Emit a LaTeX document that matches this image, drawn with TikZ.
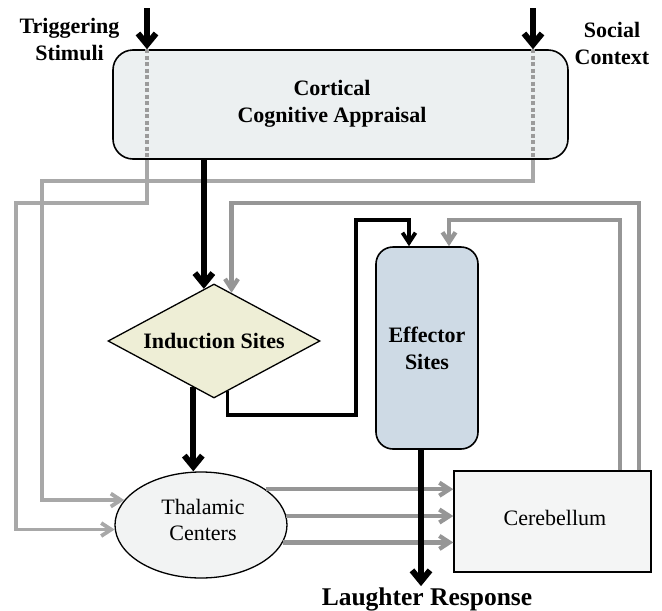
\documentclass[tikz,border=0pt]{standalone}
\usepackage{fontspec}
\setmainfont{Liberation Serif}
\usetikzlibrary{arrows.meta,shapes.geometric}
\definecolor{cortfill}{RGB}{236,240,241}
\definecolor{indfill}{RGB}{238,238,214}
\definecolor{efffill}{RGB}{206,218,229}
\definecolor{thalfill}{RGB}{242,243,243}
\definecolor{cerfill}{RGB}{244,245,245}
\definecolor{arrgray}{RGB}{150,150,150}
\definecolor{linegray}{RGB}{168,168,168}
\definecolor{dotgray}{RGB}{155,155,155}
\begin{document}
\begin{tikzpicture}[x=1pt,y=-1pt,
  lbl/.style={font=\fontsize{22}{27}\selectfont\bfseries, align=center, inner sep=0pt},
  reg/.style={font=\fontsize{22}{26}\selectfont, align=center, inner sep=0pt},
  bigarrow/.style={line width=6pt, -{Straight Barb[length=11pt,width=18pt]}},
  thinblack/.style={line width=3.8pt, -{Straight Barb[length=10pt,width=13pt]}},
  grayarrow/.style={draw=arrgray, line width=4.3pt, -{Straight Barb[length=10pt,width=13pt]}},
  lgarrow/.style={draw=linegray, line width=3.8pt, -{Straight Barb[length=10pt,width=13pt]}},
  dotline/.style={draw=dotgray, line width=3.6pt, dash pattern=on 4pt off 2.5pt},
  boxbase/.style={draw=black, inner sep=0pt}
]
\useasboundingbox (0,0) rectangle (662,611);

% nodes
\node[boxbase, line width=1.6pt, fill=cortfill, rounded corners=20pt,
      minimum width=455pt, minimum height=109pt] (cort) at (340.5,104.5) {};
\node[lbl] (cortt) at (332,103.5) {Cortical\\Cognitive Appraisal};
\node[boxbase, diamond, line width=1.3pt, fill=indfill, shape aspect=1.86,
      minimum width=212pt, minimum height=114pt, lbl] (ind) at (214,341) {Induction Sites};
\node[boxbase, line width=1.6pt, fill=efffill, rounded corners=17pt,
      minimum width=102pt, minimum height=202pt, lbl] (eff) at (427,348) {Effector\\Sites};
\node[boxbase, ellipse, line width=1.3pt, fill=thalfill,
      minimum width=172pt, minimum height=106pt] (thal) at (201,525) {};
\node[reg] (thalt) at (203,520) {Thalamic\\Centers};
\node[boxbase, line width=1.4pt, fill=cerfill,
      minimum width=197pt, minimum height=101pt] (cer) at (552.5,521.5) {};
\node[reg] (cert) at (555,517.5) {Cerebellum};
\node[font=\fontsize{25.5}{30}\selectfont\bfseries, inner sep=1pt, anchor=base] (laugh) at (427,605) {Laughter Response};
\node[lbl] (trig) at (69.5,39.5) {Triggering\\Stimuli};
\node[lbl] (soc) at (612,43.5) {Social\\Context};

% coordinates
\coordinate (tin) at (147,8);
\coordinate (sin) at (533,8);
\coordinate (tk) at (16,203);
\coordinate (sk) at (42,181);
\coordinate (outer) at (639,203);
\coordinate (inner) at (620,220);
\coordinate (effg) at (449,220);
\coordinate (blk) at (356,220);
\coordinate (effa) at (409,220);
\coordinate (blkb) at (228,415);
\coordinate (lx) at (421,0);

% dotted lines inside cortical box
\draw[dotline] (tin |- cort.north) -- (tin |- cort.south);
\draw[dotline] (sin |- cort.north) -- (sin |- cort.south);

% gray routing from cortical box to thalamic centers
\draw[lgarrow] (tin |- cort.south) -- (tin |- tk) -- (tk) -- (tk |- thal.183.3) -- (thal.183.3);
\draw[lgarrow] (sin |- cort.south) -- (sin |- sk) -- (sk) -- (sk |- thal.162.6) -- (thal.162.6);

% gray feedback from cerebellum
\draw[grayarrow] (outer |- cer.north) -- (outer) -- (outer -| ind.70.9) -- (ind.70.9);
\draw[grayarrow] (inner |- cer.north) -- (inner) -- (effg) -- (effg |- eff.north);

% thalamic -> cerebellum
\draw[grayarrow] (thal.29.7) -- (thal.29.7 -| cer.west);
\draw[grayarrow] (thal.6.75) -- (thal.6.75 -| cer.west);
\draw[grayarrow] (thal.348.96) -- (thal.348.96 -| cer.west);

% black connectors
\draw[bigarrow] (tin) -- (tin |- cort.north);
\draw[bigarrow] (sin) -- (sin |- cort.north);
\draw[bigarrow] (ind.101.7 |- cort.south) -- (ind.101.7);
\draw[bigarrow] (ind.246.5) -- (ind.246.5 |- thal.north);
\draw[thinblack] (ind.285.5) -- (ind.285.5 |- blkb) -- (blk |- blkb) -- (blk) -- (effa) -- (effa |- eff.north);
\draw[bigarrow] (lx |- eff.south) -- (lx |- laugh.north);
\end{tikzpicture}
\end{document}
